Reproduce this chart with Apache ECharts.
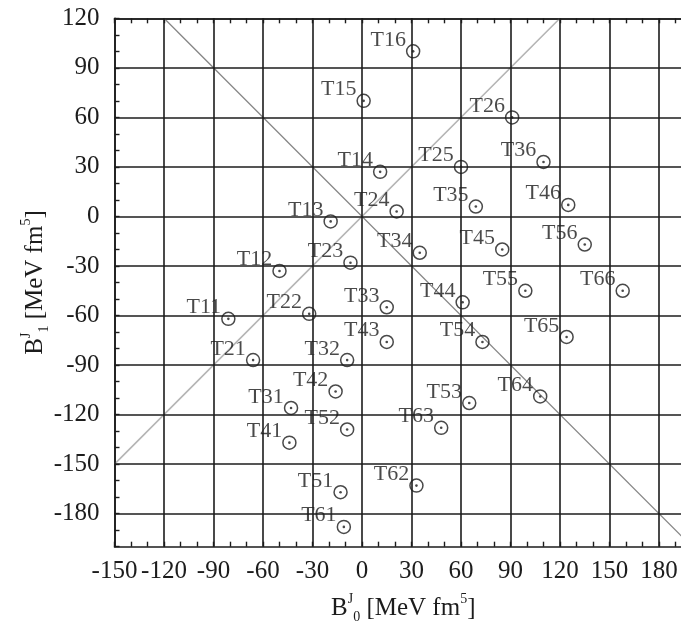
<!DOCTYPE html>
<html>
<head>
<meta charset="utf-8">
<script src="https://cdn.jsdelivr.net/npm/echarts@6/dist/echarts.min.js"></script>
<style>
  html, body { margin: 0; padding: 0; background: #fff; }
  #chart { width: 681px; height: 628px; }
</style>
</head>
<body>
<div id="chart"></div>
<script>
// Parameter sets T11 ... T66: coupling constants B^J_0 and B^J_1 (MeV fm^5)
const pointNames = [
  'T11', 'T12', 'T13', 'T14', 'T15', 'T16',
  'T21', 'T22', 'T23', 'T24', 'T25', 'T26',
  'T31', 'T32', 'T33', 'T34', 'T35', 'T36',
  'T41', 'T42', 'T43', 'T44', 'T45', 'T46',
  'T51', 'T52', 'T53', 'T54', 'T55', 'T56',
  'T61', 'T62', 'T63', 'T64', 'T65', 'T66'
];
const b0Values = [
  -81, -50, -19, 11, 1, 31,
  -66, -32, -7, 21, 60, 91,
  -43, -9, 15, 35, 69, 110,
  -44, -16, 15, 61, 85, 125,
  -13, -9, 65, 73, 99, 135,
  -11, 33, 48, 108, 124, 158
];
const b1Values = [
  -62, -33, -3, 27, 70, 100,
  -87, -59, -28, 3, 30, 60,
  -116, -87, -55, -22, 6, 33,
  -137, -106, -76, -52, -20, 7,
  -167, -129, -113, -76, -45, -17,
  -188, -163, -128, -109, -73, -45
];

// Labelled (major) tick values; the grid is drawn on these
const xMajorTicks = [-150, -120, -90, -60, -30, 0, 30, 60, 90, 120, 150, 180];
const yMajorTicks = [-180, -150, -120, -90, -60, -30, 0, 30, 60, 90, 120];

// Reference diagonals B1 = B0 and B1 = -B0
const diagonalUp = [[-150, -150], [120, 120]];
const diagonalDown = [[-120, 120], [200, -200]];

// Axis ranges and minor tick spacing
const xRange = [-150, 200];
const yRange = [-200, 120];
const minorStep = 10;

const points = pointNames.map((n, i) => ({ name: n, value: [b0Values[i], b1Values[i]] }));

const ink = '#1c1c1c';
const serif = '"Liberation Serif", "DejaVu Serif", serif';

const titleRich = {
  b: { fontFamily: serif, fontSize: 25, color: ink, lineHeight: 32, verticalAlign: 'middle' },
  sup: { fontFamily: serif, fontSize: 14, color: ink, lineHeight: 14, verticalAlign: 'top' },
  sub: { fontFamily: serif, fontSize: 14, color: ink, lineHeight: 14, verticalAlign: 'bottom' }
};

function valueAxis(range, majors, extra) {
  return Object.assign({
    type: 'value',
    min: range[0],
    max: range[1],
    interval: minorStep,
    axisLine: { show: true, onZero: false, lineStyle: { color: ink, width: 1.6 } },
    axisTick: { show: true, inside: true, length: 5, lineStyle: { color: ink, width: 1.4 } },
    splitLine: { show: false },
    axisLabel: {
      show: true,
      formatter: (v) => (majors.indexOf(v) >= 0 ? String(v) : ''),
      fontFamily: serif,
      fontSize: 25,
      color: ink
    }
  }, extra);
}

const chart = echarts.init(document.getElementById('chart'), null, { renderer: 'canvas' });

const bottomX = valueAxis(xRange, xMajorTicks, {
  position: 'bottom',
  name: '{b|B}{sup|J}{sub|0}{b| [MeV fm}{sup|5}{b|]}',
  nameLocation: 'middle',
  nameGap: 46,
  nameMoveOverlap: false,
  nameTextStyle: { rich: titleRich }
});
bottomX.axisLabel.margin = 12;

const leftY = valueAxis(yRange, yMajorTicks, {
  position: 'left',
  name: '{b|B}{sup|J}{sub|1}{b| [MeV fm}{sup|5}{b|]}',
  nameLocation: 'middle',
  nameGap: 63,
  nameMoveOverlap: false,
  nameTextStyle: { rich: titleRich }
});
leftY.axisLabel.margin = 15;

const gridLines = xMajorTicks.map((v) => ({ xAxis: v })).concat(yMajorTicks.map((v) => ({ yAxis: v })));

chart.setOption({
  animation: false,
  backgroundColor: '#ffffff',
  grid: {
    left: 114.5, top: 18.3, width: 577.5, height: 528.4,
    containLabel: false,
    outerBoundsMode: 'none'
  },
  xAxis: [
    bottomX,
    valueAxis(xRange, xMajorTicks, { position: 'top', axisLabel: { show: false } })
  ],
  yAxis: [
    leftY,
    valueAxis(yRange, yMajorTicks, { position: 'right', axisLabel: { show: false } })
  ],
  series: [
    {
      // major grid
      type: 'scatter',
      data: [],
      silent: true,
      z: 0,
      markLine: {
        silent: true,
        symbol: ['none', 'none'],
        label: { show: false },
        animation: false,
        lineStyle: { color: ink, width: 1.6, type: 'solid' },
        data: gridLines
      }
    },
    {
      type: 'line',
      data: diagonalUp,
      showSymbol: false,
      silent: true,
      z: 1,
      lineStyle: { color: '#b4b4b4', width: 1.6 }
    },
    {
      type: 'line',
      data: diagonalDown,
      showSymbol: false,
      silent: true,
      z: 1,
      lineStyle: { color: '#858585', width: 1.3 }
    },
    {
      // open rings with the set names
      type: 'scatter',
      data: points,
      symbol: 'circle',
      symbolSize: 13,
      z: 3,
      itemStyle: { color: 'rgba(0,0,0,0)', borderColor: ink, borderWidth: 1.5 },
      label: {
        show: true,
        formatter: '{b}',
        position: [0, 7],
        align: 'right',
        verticalAlign: 'bottom',
        fontFamily: serif,
        fontSize: 22,
        color: ink
      }
    },
    {
      // centre dots of the rings
      type: 'scatter',
      data: points,
      symbol: 'circle',
      symbolSize: 2.6,
      z: 4,
      silent: true,
      itemStyle: { color: ink }
    }
  ]
});
</script>
</body>
</html>
